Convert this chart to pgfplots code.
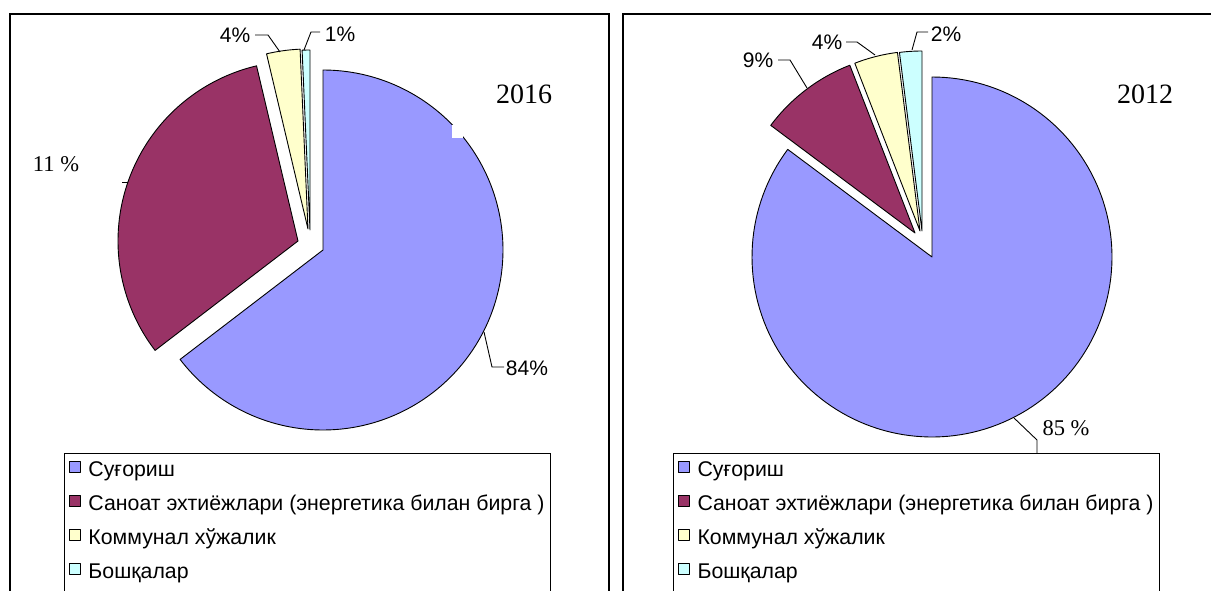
\documentclass[border=0pt]{standalone}
\usepackage{fontspec}
\setmainfont{Liberation Serif}
\setsansfont{Liberation Sans}
\newfontfamily\arial{Liberation Sans}
\usepackage{pgfplots}
\pgfplotsset{compat=1.18}
\definecolor{sBlue}{HTML}{9999FF}
\definecolor{sMaroon}{HTML}{993366}
\definecolor{sYellow}{HTML}{FFFFCC}
\definecolor{sCyan}{HTML}{CCFFFF}
% one pie slice: #1 cumulative share before (%), #2 cumulative share after (%), #3,#4 tip, #5 colour
\newcommand\slice[5]{%
  \pgfmathsetmacro\angA{90-3.6*(#2)}%
  \pgfmathsetmacro\angB{90-3.6*(#1)}%
  \addplot[draw=black, line width=0.9pt, line join=round, fill=#5,
    domain=\angA:\angB, samples=150]
    ({#3+180*cos(x)},{#4+180*sin(x)}) -- (axis cs:#3,#4) -- cycle;}
\pgfplotsset{
  piepanel/.style={
    at={(0,0)}, anchor=south west, scale only axis,
    width=1211pt, height=590pt,
    xmin=0, xmax=1211, ymin=0, ymax=590,
    hide axis, clip=false,
    legend cell align=left,
    legend image code/.code={\draw[##1, draw=black, line width=0.9pt] (3pt,-1pt) rectangle (14pt,10pt);
      \path (20pt,0pt);},
    legend style={anchor=north west, draw=black, line width=1.1pt, fill=white,
      font=\arial\fontsize{21.3}{25}\selectfont,
      inner xsep=4pt, inner ysep=6pt, row sep=10pt,
      nodes={inner sep=2pt, text height=15pt, text depth=5pt, line width=0.9pt}},
  }
}
\begin{document}
\begin{tikzpicture}
\useasboundingbox (0,0) rectangle (1211pt,590pt);
% ---------------- 2016 ----------------
\begin{axis}[piepanel, legend style={at={(0.05285,0.2322)}}]
  % shares as drawn (%): 64.6, 31.7, 3.0, 0.7
  \slice{0}{64.6}{323}{340}{sBlue}
  \slice{64.6}{96.3}{298}{349}{sMaroon}
  \slice{96.3}{99.3}{308}{361}{sYellow}
  \slice{99.3}{100}{310}{360}{sCyan}
  \legend{Суғориш, Саноат эхтиёжлари (энергетика билан бирга ), Коммунал хўжалик, Бошқалар}
  \fill[white] (axis cs:452,465) rectangle (axis cs:463,452);
  \draw[line width=2pt] (axis cs:10,-10) -- (axis cs:10,576) -- (axis cs:609,576) -- (axis cs:609,-10);
  \node[font=\fontsize{28}{30}\selectfont] at (axis cs:524,496) {2016};
  \node[font=\fontsize{22.5}{25}\selectfont] at (axis cs:56,426) {11 \%};
  \draw[line width=0.9pt] (axis cs:122,408) -- (axis cs:128,408);
  \node[font=\arial\fontsize{21}{25}\selectfont] at (axis cs:235,555) {4\%};
  \draw[line width=0.9pt] (axis cs:255,555) -- (axis cs:268,555) -- (axis cs:280,538);
  \node[font=\arial\fontsize{21}{25}\selectfont] at (axis cs:340,556) {1\%};
  \draw[line width=0.9pt] (axis cs:320,558) -- (axis cs:311,558) -- (axis cs:304,540);
  \node[font=\arial\fontsize{21}{25}\selectfont] at (axis cs:527,222) {84\%};
  \draw[line width=0.9pt] (axis cs:484,258) -- (axis cs:492,223) -- (axis cs:504,223);
\end{axis}
% ---------------- 2012 ----------------
\begin{axis}[piepanel, legend style={at={(0.5558,0.2322)}}]
  % shares (%): 85.2, 8.9, 3.9, 2.0
  \slice{0}{85.2}{932}{333}{sBlue}
  \slice{85.2}{94.1}{915}{357}{sMaroon}
  \slice{94.1}{98}{920}{359}{sYellow}
  \slice{98}{100}{922}{359}{sCyan}
  \legend{Суғориш, Саноат эхтиёжлари (энергетика билан бирга ), Коммунал хўжалик, Бошқалар}
  \draw[line width=2pt] (axis cs:623,-10) -- (axis cs:623,576) -- (axis cs:1220,576);
  \node[font=\fontsize{28}{30}\selectfont] at (axis cs:1145,496) {2012};
  \node[font=\fontsize{22.5}{25}\selectfont] at (axis cs:1066,162) {85 \%};
  \draw[line width=0.9pt] (axis cs:1014,172) -- (axis cs:1037,150) -- (axis cs:1037,137);
  \node[font=\arial\fontsize{21}{25}\selectfont] at (axis cs:758,530) {9\%};
  \draw[line width=0.9pt] (axis cs:778,530) -- (axis cs:790,530) -- (axis cs:807,502);
  \node[font=\arial\fontsize{21}{25}\selectfont] at (axis cs:827,548) {4\%};
  \draw[line width=0.9pt] (axis cs:846,548) -- (axis cs:857,548) -- (axis cs:875,535);
  \node[font=\arial\fontsize{21}{25}\selectfont] at (axis cs:946,556) {2\%};
  \draw[line width=0.9pt] (axis cs:928,558) -- (axis cs:917,558) -- (axis cs:912,540);
\end{axis}
\end{tikzpicture}
\end{document}
